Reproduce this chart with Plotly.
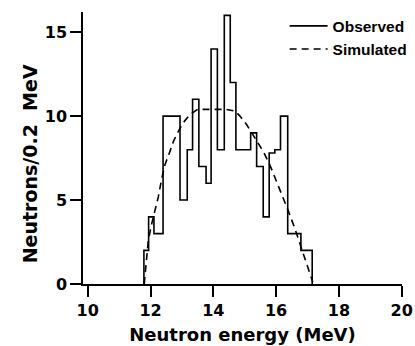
import plotly.graph_objects as go

# Observed histogram: bin edges (MeV) and counts per bin
obs_edges = [11.79, 11.94, 12.11, 12.40, 12.94, 13.17, 13.34, 13.54, 13.77, 13.93,
             14.13, 14.35, 14.54, 14.72, 15.19, 15.38, 15.59, 15.78, 15.96, 16.14,
             16.37, 16.79, 17.15]
obs_counts = [2, 4, 3, 10, 5, 8, 11, 7, 6, 14, 8, 16, 12, 8, 9, 7, 4, 7.8, 8, 10, 3, 2]

# Simulated curve
sim_x = [11.80, 11.86, 11.93, 12.04, 12.14, 12.25, 12.36, 12.46, 12.62, 12.73,
         12.89, 13.04, 13.26, 13.50, 13.80, 14.10, 14.40, 14.70, 14.85, 15.06,
         15.33, 15.59, 15.80, 16.02, 16.23, 16.40, 16.60, 16.78, 16.97, 17.17]
sim_y = [0, 1.4, 2.6, 3.6, 4.4, 5.2, 6.3, 7.1, 7.9, 8.5,
         9.1, 9.6, 10.1, 10.4, 10.4, 10.4, 10.4, 10.3, 10.0, 9.5,
         8.7, 7.9, 7.1, 6.1, 5.1, 4.3, 3.3, 2.3, 1.3, 0.1]

x_ticks = [10, 12, 14, 16, 18, 20]
y_ticks = [0, 5, 10, 15]

step_x = [obs_edges[0]] + obs_edges
step_y = [0] + obs_counts + [0]

axis_font = dict(family="DejaVu Sans", size=16, color="black", weight="bold")

fig = go.Figure()
fig.add_trace(go.Scatter(x=step_x, y=step_y, mode="lines", name="Observed",
                         line=dict(color="black", width=1.6, shape="hv")))
fig.add_trace(go.Scatter(x=sim_x, y=sim_y, mode="lines", name="Simulated",
                         line=dict(color="black", width=1.6, dash="7px,5px")))

fig.update_layout(
    width=415, height=346,
    margin=dict(l=83, r=13, t=12, b=62, autoexpand=False),
    paper_bgcolor="white", plot_bgcolor="white",
    showlegend=True,
    legend=dict(x=0.632, y=1.01, xanchor="left", yanchor="top",
                bgcolor="rgba(0,0,0,0)", itemwidth=38,
                font=dict(family="Liberation Sans", size=15.5, color="black", weight="bold")),
    xaxis=dict(range=[9.85, 20.01], tickvals=x_ticks, ticks="outside", ticklen=11,
               tickwidth=1.5, tickcolor="black", showline=True, linecolor="black",
               linewidth=1.5, showgrid=False, zeroline=False, tickfont=axis_font,
               title=dict(text="Neutron energy (MeV)", font=dict(family="DejaVu Sans", size=18,
                          color="black", weight="bold"), standoff=9)),
    yaxis=dict(range=[0, 16.2], tickvals=y_ticks, ticks="outside", ticklen=11,
               tickwidth=1.5, tickcolor="black", showline=True, linecolor="black",
               linewidth=1.5, showgrid=False, zeroline=False, tickfont=axis_font),
    annotations=[dict(text="Neutrons/0.2\u00a0 MeV", textangle=-90, xref="paper", yref="paper",
                      x=-0.166, y=0.44, xanchor="center", yanchor="middle", showarrow=False,
                      font=dict(family="DejaVu Sans", size=19, color="black", weight="bold"))],
)

fig.write_html("out.html")
